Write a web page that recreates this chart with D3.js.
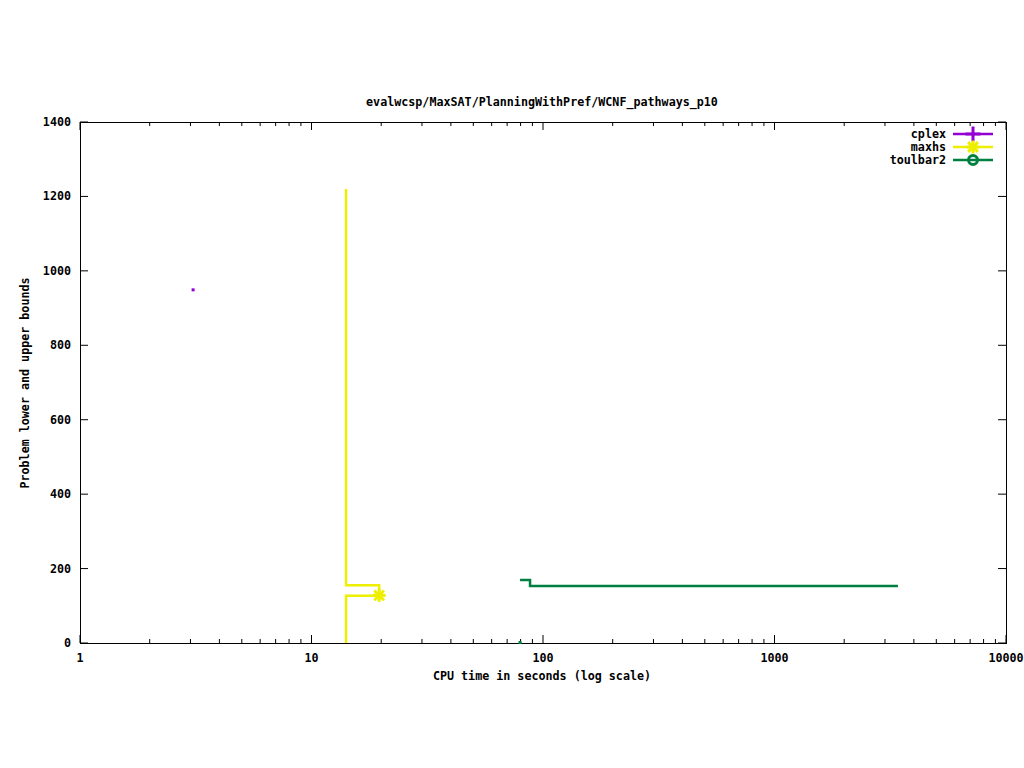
<!DOCTYPE html>
<html><head><meta charset="utf-8">
<script src="https://cdn.jsdelivr.net/npm/d3@7"></script>
<style>
body{margin:0;background:#fff;}
text{font-family:"DejaVu Sans Mono",monospace;font-size:11.7px;font-weight:bold;fill:#000;}
</style></head>
<body><svg id="c" width="1024" height="768"></svg>
<script>
const title = "evalwcsp/MaxSAT/PlanningWithPref/WCNF_pathways_p10";
const xTicks = [1, 10, 100, 1000, 10000];
const yTicks = [0, 200, 400, 600, 800, 1000, 1200, 1400];
const seriesNames = ["cplex", "maxhs", "toulbar2"];
const seriesColors = ["#9400d3", "#eeee00", "#008040"];
// cplex: single upper bound point
const cplexT = [3.08];
const cplexV = [949];
// maxhs upper / lower bounds (step-after)
const maxhsUpperT = [14.1, 14.1, 19.6];
const maxhsUpperV = [1220, 155, 128];
const maxhsLowerT = [14.1, 14.1, 19.6];
const maxhsLowerV = [0, 127, 127];
// toulbar2 upper / lower bounds
const toulUpperT = [79.6, 87.9, 3414];
const toulUpperV = [169, 153, 153];
const toulLowerT = [79.6];
const toulLowerV = [0];

const svg = d3.select("#c");
const L = 80, R = 1006, T = 122, B = 643;
const x = d3.scaleLog().domain([1, 10000]).range([L, R]);
const y = d3.scaleLinear().domain([0, 1400]).range([B, T]);

// ticks
const g = svg.append("g");
const minor = [];
for (let d = 1; d < 10000; d *= 10) for (let k = 2; k <= 9; k++) minor.push(d * k);
minor.forEach(v => {
  g.append("line").attr("x1", x(v)).attr("x2", x(v)).attr("y1", B).attr("y2", B - 4).attr("stroke", "#000");
  g.append("line").attr("x1", x(v)).attr("x2", x(v)).attr("y1", T).attr("y2", T + 4).attr("stroke", "#000");
});
xTicks.forEach(v => {
  g.append("line").attr("x1", x(v)).attr("x2", x(v)).attr("y1", B).attr("y2", B - 8).attr("stroke", "#000");
  g.append("line").attr("x1", x(v)).attr("x2", x(v)).attr("y1", T).attr("y2", T + 8).attr("stroke", "#000");
  g.append("text").attr("x", x(v)).attr("y", B + 19).attr("text-anchor", "middle").text(v);
});
yTicks.forEach(v => {
  g.append("line").attr("x1", L).attr("x2", L + 8).attr("y1", y(v)).attr("y2", y(v)).attr("stroke", "#000");
  g.append("line").attr("x1", R).attr("x2", R - 8).attr("y1", y(v)).attr("y2", y(v)).attr("stroke", "#000");
  g.append("text").attr("x", 71).attr("y", y(v) + 4).attr("text-anchor", "end").text(v);
});
g.append("rect").attr("x", L + 0.5).attr("y", T + 0.5).attr("width", R - L).attr("height", B - T)
  .attr("fill", "none").attr("stroke", "#000");

svg.append("text").attr("x", 542).attr("y", 106).attr("text-anchor", "middle").text(title);
svg.append("text").attr("x", 542).attr("y", 680).attr("text-anchor", "middle").text("CPU time in seconds (log scale)");
svg.append("text").attr("transform", "translate(29,383) rotate(-90)").attr("text-anchor", "middle").text("Problem lower and upper bounds");

const line = d3.line().x(d => x(d[0])).y(d => y(d[1])).curve(d3.curveStepAfter);
const zip = (a, b) => a.map((t, i) => [t, b[i]]);
const draw = (pts, c) => svg.append("path").attr("d", line(pts)).attr("fill", "none")
  .attr("stroke", c).attr("stroke-width", 2.5);

draw(zip(maxhsUpperT, maxhsUpperV), seriesColors[1]);
draw(zip(maxhsLowerT, maxhsLowerV), seriesColors[1]);
draw(zip(toulUpperT, toulUpperV), seriesColors[2]);

// points
cplexT.forEach((t, i) => svg.append("rect").attr("x", x(t) - 1.5).attr("y", y(cplexV[i]) - 1.5)
  .attr("width", 3).attr("height", 3).attr("fill", seriesColors[0]));
toulLowerT.forEach((t, i) => svg.append("rect").attr("x", x(t) - 1.5).attr("y", y(toulLowerV[i]) - 2)
  .attr("width", 3).attr("height", 3).attr("fill", seriesColors[2]));

function star(cx, cy, c, s) {
  const gg = svg.append("g").attr("stroke", c).attr("stroke-width", 3);
  [[-s, 0, s, 0], [0, -s, 0, s], [-s * .75, -s * .75, s * .75, s * .75], [-s * .75, s * .75, s * .75, -s * .75]]
    .forEach(a => gg.append("line").attr("x1", cx + a[0]).attr("y1", cy + a[1]).attr("x2", cx + a[2]).attr("y2", cy + a[3]));
}
function plus(cx, cy, c, s) {
  const gg = svg.append("g").attr("stroke", c).attr("stroke-width", 3);
  gg.append("line").attr("x1", cx - s).attr("x2", cx + s).attr("y1", cy).attr("y2", cy);
  gg.append("line").attr("x1", cx).attr("x2", cx).attr("y1", cy - s).attr("y2", cy + s);
}
function circ(cx, cy, c, r) {
  svg.append("circle").attr("cx", cx).attr("cy", cy).attr("r", r).attr("fill", "none")
    .attr("stroke", c).attr("stroke-width", 3);
}
star(x(maxhsUpperT[2]), y(maxhsUpperV[2]), seriesColors[1], 6.5);

// legend
const ly = [134, 147, 160];
seriesNames.forEach((n, i) => {
  svg.append("text").attr("x", 946).attr("y", ly[i] + 4).attr("text-anchor", "end").text(n);
  svg.append("line").attr("x1", 953).attr("x2", 993).attr("y1", ly[i]).attr("y2", ly[i])
    .attr("stroke", seriesColors[i]).attr("stroke-width", 2.5);
});
plus(973, ly[0], seriesColors[0], 7.5);
star(973, ly[1], seriesColors[1], 6.5);
circ(973, ly[2], seriesColors[2], 4.5);
</script></body></html>
